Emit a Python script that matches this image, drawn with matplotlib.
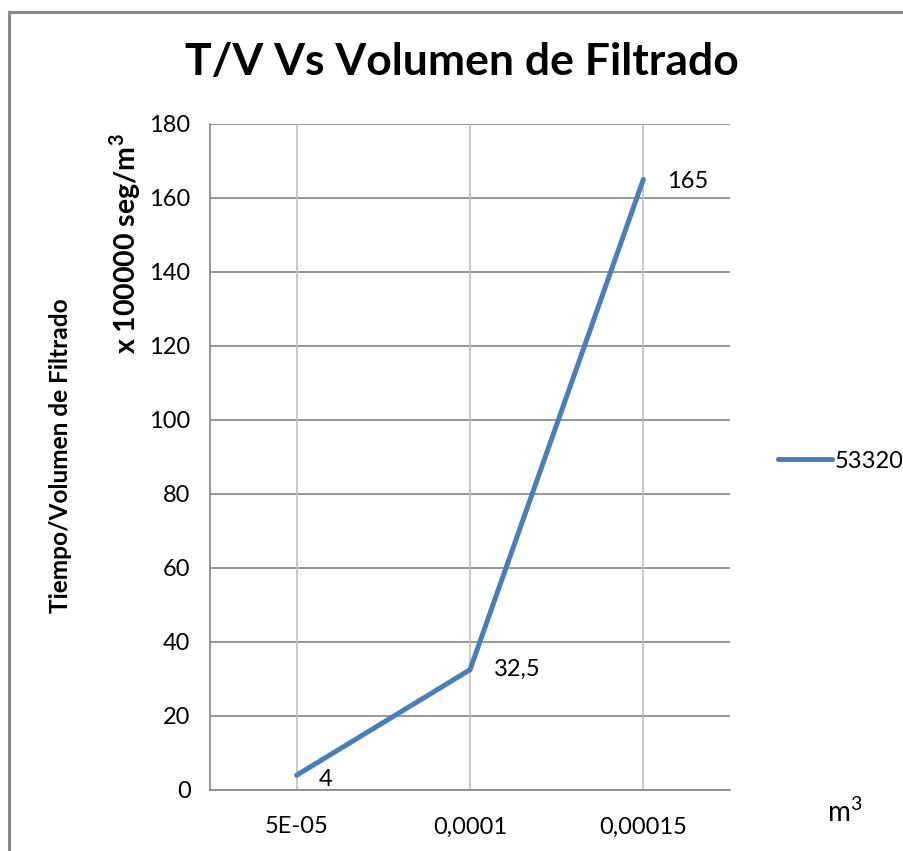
import matplotlib
matplotlib.use("Agg")
import matplotlib.pyplot as plt
from matplotlib.lines import Line2D

categories = ["5E-05", "0,0001", "0,00015"]
values = [4, 32.5, 165]
value_labels = ["4", "32,5", "165"]
series_name = "53320"
yticks = [0, 20, 40, 60, 80, 100, 120, 140, 160, 180]

plt.rcParams['font.family'] = ['Lato', 'DejaVu Sans']
plt.rcParams['mathtext.fontset'] = 'custom'
plt.rcParams['mathtext.rm'] = 'Lato'
plt.rcParams['mathtext.bf'] = 'Lato:bold'

W, H = 904, 851
fig = plt.figure(figsize=(W / 100, H / 100), dpi=100)
ax = fig.add_axes([210 / W, 1 - 790 / H, 520 / W, (790 - 124) / H])

x = list(range(len(categories)))
line, = ax.plot(x, values, color="#4A7EBB", lw=3.6, solid_capstyle="round",
                label=series_name, zorder=3)

ax.set_xlim(-0.5, len(categories) - 0.5)
ax.set_ylim(0, 180)
ax.set_yticks(yticks)
ax.set_yticklabels([str(t) for t in yticks])
ax.set_xticks(x)
ax.set_xticklabels(categories)
ax.tick_params(axis="y", length=0, pad=14, labelsize=17)
ax.tick_params(axis="x", length=0, pad=19, labelsize=17)

for t in yticks:
    ax.axhline(t, color="#868686", lw=1.2, zorder=1)
for xi in x:
    ax.axvline(xi, color="#c0c0c0", lw=1.2, zorder=1)

for s in ["top", "right"]:
    ax.spines[s].set_visible(False)
for s in ["left", "bottom"]:
    ax.spines[s].set_color("#868686")
    ax.spines[s].set_linewidth(1.2)

offsets = [(22, -4), (24, 0), (24, -2)]
for xi, v, lab, off in zip(x, values, value_labels, offsets):
    ax.annotate(lab, (xi, v), xytext=off, textcoords="offset pixels",
                ha="left", va="center", fontsize=17)

fig.text(462 / W, 1 - 62 / H, "T/V Vs Volumen de Filtrado", ha="center",
         va="center", fontsize=32, fontweight="bold")
fig.text(61 / W, 1 - 456 / H, "Tiempo/Volumen de Filtrado", ha="center",
         va="center", rotation=90, fontsize=17.6, fontweight="bold")
fig.text(125 / W, 1 - 244 / H, "x 100000 seg/m$^{\\mathbf{3}}$", ha="center",
         va="center", rotation=90, fontsize=20.5, fontweight="bold")
fig.text(845 / W, 1 - 812 / H, "m$^{3}$", ha="center", va="center", fontsize=20)

leg = fig.legend(handles=[line], loc="center left",
                 bbox_to_anchor=(778 / W, 1 - 461 / H), frameon=False,
                 fontsize=17, handlelength=2.3, handletextpad=0.1,
                 borderaxespad=0, borderpad=0)

fig.add_artist(Line2D([8.5 / W, 8.5 / W], [0, 1 - 11.5 / H], color="#888888", lw=2.2,
                      transform=fig.transFigure))
fig.add_artist(Line2D([8.5 / W, 1], [1 - 11.5 / H, 1 - 11.5 / H], color="#888888", lw=2.2,
                      transform=fig.transFigure))

fig.savefig("out.png", dpi=100)
